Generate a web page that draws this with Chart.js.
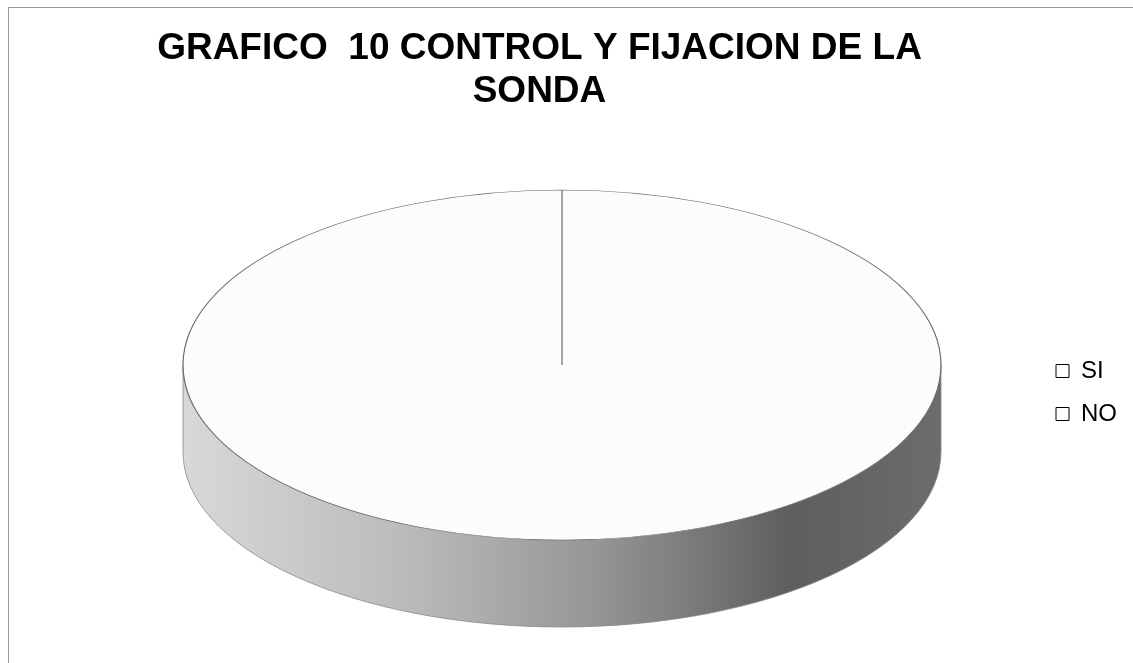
<!DOCTYPE html>
<html>
<head>
<meta charset="utf-8">
<script src="https://cdn.jsdelivr.net/npm/chart.js@4/dist/chart.umd.min.js"></script>
<style>
    body { margin: 0; background: #fff; overflow: hidden; }
    #frame { position: absolute; left: 8px; top: 7px; width: 1200px; height: 700px; border: 1px solid #9c9c9c; }
    #wrap { position: absolute; left: 0; top: 0; width: 1133px; height: 663px; }
</style>
</head>
<body>
<div id="frame"></div>
<div id="wrap"><canvas id="chart"></canvas></div>
<script>
const categories = ["SI", "NO"];
const values = [100, 0];
const titleLines = ["GRAFICO  10 CONTROL Y FIJACION DE LA", "SONDA"];

// how the flat pie is laid out as a tilted disc
const disc = { cx: 562, cy: 365, rx: 379, ry: 175, depth: 87 };
// where the legend block sits
const legendSpot = { left: 1037, top: 340 };

const ctx = document.getElementById("chart");

// side band of the disc + squash the pie into an ellipse
const tiltPlugin = {
    id: "tilt",
    afterLayout(chart) {
        const lg = chart.legend;
        const h = lg.bottom - lg.top;
        const w = lg.right - lg.left;
        lg.left = legendSpot.left;
        lg.right = lg.left + w;
        lg.top = legendSpot.top;
        lg.bottom = lg.top + h;
    },
    beforeDatasetsDraw(chart) {
        const c = chart.ctx;
        const arc = chart.getDatasetMeta(0).data[0];
        const R = arc.outerRadius;

        c.save();
        let g = c.createLinearGradient(disc.cx - disc.rx, 0, disc.cx + disc.rx, 0);
        g.addColorStop(0, "#d8d8d8");
        g.addColorStop(0.3, "#bababa");
        g.addColorStop(0.55, "#959595");
        g.addColorStop(0.8, "#5e5e5e");
        g.addColorStop(1, "#6c6c6c");
        c.beginPath();
        c.moveTo(disc.cx + disc.rx, disc.cy);
        c.ellipse(disc.cx, disc.cy, disc.rx, disc.ry, 0, 0, Math.PI);
        c.lineTo(disc.cx - disc.rx, disc.cy + disc.depth);
        c.ellipse(disc.cx, disc.cy + disc.depth, disc.rx, disc.ry, 0, Math.PI, 0, true);
        c.closePath();
        c.fillStyle = g;
        c.fill();
        c.strokeStyle = "#8a8a8a";
        c.lineWidth = 0.8;
        c.stroke();
        c.restore();

        c.save();
        c.translate(disc.cx, disc.cy);
        c.scale(disc.rx / R, disc.ry / R);
        c.translate(-arc.x, -arc.y);
    },
    afterDatasetsDraw(chart) {
        chart.ctx.restore();
    }
};

const defaultLabels = Chart.overrides.pie.plugins.legend.labels.generateLabels;

new Chart(ctx, {
    type: "pie",
    data: {
        labels: categories,
        datasets: [{
            data: values,
            backgroundColor: ["#fcfcfc", "#fcfcfc"],
            borderColor: "#6a6a6a",
            borderWidth: 0.8
        }]
    },
    options: {
        responsive: true,
        maintainAspectRatio: false,
        animation: false,
        layout: { padding: { top: 20, right: 4, bottom: 20, left: 40 } },
        plugins: {
            title: {
                display: true,
                text: titleLines,
                fullSize: false,
                color: "#000",
                font: { family: "Liberation Sans, Arial, sans-serif", size: 37, weight: "bold", lineHeight: 1.16 },
                padding: { top: 7, bottom: 20 }
            },
            legend: {
                position: "right",
                align: "start",
                labels: {
                    color: "#000",
                    font: { family: "Liberation Sans, Arial, sans-serif", size: 24 },
                    boxWidth: 13,
                    boxHeight: 13,
                    padding: 19,
                    generateLabels(chart) {
                        return defaultLabels(chart).map(l => {
                            l.fillStyle = "#fff";
                            l.strokeStyle = "#000";
                            l.lineWidth = 1;
                            return l;
                        });
                    }
                }
            },
            tooltip: { enabled: false }
        }
    },
    plugins: [tiltPlugin]
});
</script>
</body>
</html>
